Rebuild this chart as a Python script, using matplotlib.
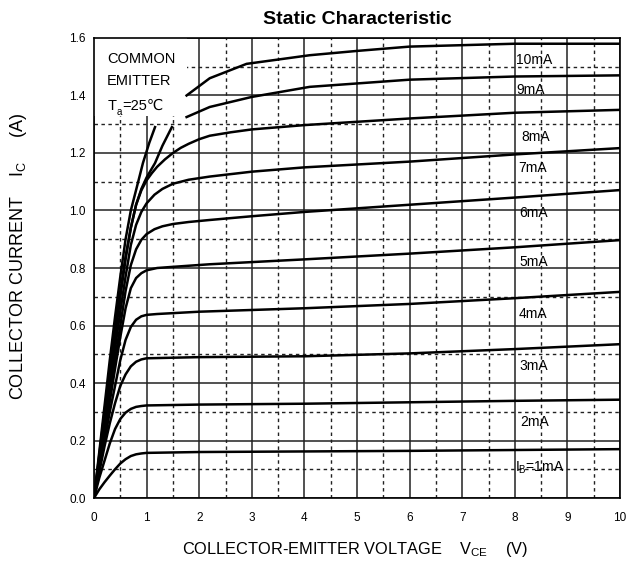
import numpy as np
import matplotlib
matplotlib.use("Agg")
import matplotlib.pyplot as plt
from matplotlib.patches import Rectangle
from matplotlib.ticker import MultipleLocator

plt.rcParams['font.family'] = ['Liberation Sans', 'DejaVu Sans']
plt.rcParams['mathtext.fontset'] = 'custom'
plt.rcParams['mathtext.rm'] = 'Liberation Sans'
plt.rcParams['mathtext.it'] = 'Liberation Sans'

nan = np.nan

# base current curves, (V_CE, I_C)
v_1 = [0, 0.1, 0.2, 0.3, 0.4, 0.5, 0.6, 0.7, 0.8, 0.9, 1.0, 2, 4, 6, 8, 10]
i_1 = [0, 0.03, 0.055, 0.078, 0.1, 0.12, 0.135, 0.146, 0.152, 0.155, 0.157,
       0.16, 0.162, 0.164, 0.167, 0.17]

v_2 = [0, 0.1, 0.2, 0.3, 0.4, 0.5, 0.6, 0.7, 0.8, 0.9, 1.0, 2, 4, 6, 8, 10]
i_2 = [0, 0.07, 0.13, 0.19, 0.24, 0.275, 0.297, 0.31, 0.317, 0.32, 0.322,
       0.325, 0.328, 0.333, 0.338, 0.342]

v_3 = [0, 0.1, 0.2, 0.3, 0.4, 0.5, 0.6, 0.7, 0.8, 0.9, 1.0, 1.5, 2, 4, 6, 8, 10]
i_3 = [0, 0.09, 0.18, 0.26, 0.33, 0.39, 0.43, 0.458, 0.474, 0.482, 0.486,
       0.488, 0.49, 0.493, 0.503, 0.518, 0.535]

v_4 = [0, 0.1, 0.2, 0.3, 0.4, 0.5, 0.6, 0.7, 0.8, 0.9, 1.0, 1.2, 1.5, 2, 4, 6, 8, 10]
i_4 = [0, 0.1, 0.2, 0.3, 0.39, 0.48, 0.55, 0.595, 0.62, 0.632, 0.637, 0.64,
       0.643, 0.648, 0.66, 0.675, 0.695, 0.717]

v_5 = [0, 0.1, 0.2, 0.3, 0.4, 0.5, 0.6, 0.7, 0.8, 0.9, 1.0, 1.2, 1.5, 2.2, 4, 6, 8, 10]
i_5 = [0, 0.11, 0.22, 0.335, 0.45, 0.56, 0.66, 0.73, 0.765, 0.782, 0.792, 0.8,
       0.804, 0.813, 0.83, 0.85, 0.872, 0.897]

v_6 = [0, 0.1, 0.2, 0.3, 0.4, 0.5, 0.6, 0.7, 0.8, 0.9, 1.0, 1.15, 1.3, 1.5, 1.8,
       2.2, 3, 4, 6, 8, 10]
i_6 = [0, 0.12, 0.24, 0.36, 0.48, 0.6, 0.72, 0.81, 0.865, 0.898, 0.918, 0.935,
       0.945, 0.953, 0.96, 0.967, 0.98, 0.995, 1.02, 1.045, 1.071]

v_7 = [0, 0.1, 0.2, 0.3, 0.4, 0.5, 0.6, 0.7, 0.8, 0.9, 1.0, 1.15, 1.3, 1.5, 1.8,
       2.2, 3, 4, 6, 8, 10]
i_7 = [0, 0.13, 0.26, 0.39, 0.52, 0.65, 0.77, 0.88, 0.95, 0.995, 1.025, 1.055,
       1.075, 1.093, 1.107, 1.118, 1.135, 1.15, 1.17, 1.195, 1.217]

v_8 = [0, 0.1, 0.2, 0.3, 0.4, 0.5, 0.6, 0.7, 0.8, 0.9, 1.0, 1.1, 1.2, 1.35, 1.5,
       1.65, 1.8, 2.0, 2.2, 2.6, 3, 4, 6, 8, 10]
i_8 = [0, 0.14, 0.28, 0.42, 0.56, 0.7, 0.83, 0.94, 1.02, 1.07, 1.105, 1.13,
       1.152, 1.178, 1.2, 1.218, 1.232, 1.248, 1.26, 1.272, 1.282, 1.297, 1.32,
       1.34, 1.35]

v_9 = [0, 0.1, 0.2, 0.3, 0.4, 0.5, 0.6, 0.7, 0.8, 0.9, 1.0, 1.16, 1.3, 1.48, nan,
       1.76, 2.2, 3, 4.1, 6, 8, 10]
i_9 = [0, 0.15, 0.3, 0.45, 0.59, 0.72, 0.84, 0.94, 1.02, 1.075, 1.115, 1.165,
       1.225, 1.29, nan, 1.325, 1.36, 1.395, 1.43, 1.455, 1.466, 1.47]

v_10 = [0, 0.1, 0.2, 0.3, 0.4, 0.5, 0.6, 0.7, 0.84, 0.93, 1.05, 1.16, nan,
        1.76, 2.2, 2.9, 4.1, 5, 6, 7, 8, 10]
i_10 = [0, 0.16, 0.32, 0.48, 0.63, 0.77, 0.9, 1.0, 1.1, 1.165, 1.235, 1.29, nan,
        1.40, 1.46, 1.51, 1.54, 1.555, 1.57, 1.575, 1.58, 1.58]

curves = [(v_1, i_1), (v_2, i_2), (v_3, i_3), (v_4, i_4), (v_5, i_5),
          (v_6, i_6), (v_7, i_7), (v_8, i_8), (v_9, i_9), (v_10, i_10)]

labels = ['$\\mathregular{I_B}$=1mA', '2mA', '3mA', '4mA', '5mA',
          '6mA', '7mA', '8mA', '9mA', '10mA']
label_x = [8.0, 8.1, 8.08, 8.08, 8.08, 8.08, 8.06, 8.12, 8.03, 8.02]
label_y = [0.104, 0.265, 0.459, 0.64, 0.821, 0.991, 1.147, 1.257, 1.419, 1.523]

fig = plt.figure(figsize=(6.28, 5.66), dpi=100)
ax = fig.add_axes([0.1497, 0.1201, 0.8376, 0.8128])

ax.set_xlim(0, 10)
ax.set_ylim(0, 1.6)
ax.xaxis.set_major_locator(MultipleLocator(1))
ax.xaxis.set_minor_locator(MultipleLocator(0.5))
ax.yaxis.set_major_locator(MultipleLocator(0.2))
ax.yaxis.set_minor_locator(MultipleLocator(0.1))
ax.yaxis.set_major_formatter(plt.FormatStrFormatter('%.1f'))

ax.grid(which='major', color='#222222', linewidth=1.1, linestyle='-')
ax.grid(which='minor', color='#222222', linewidth=1.0, linestyle=(0, (2.5, 2.5)))
ax.set_axisbelow(True)
ax.tick_params(which='both', length=0, labelsize=8.5)
ax.tick_params(axis='x', pad=10)
ax.tick_params(axis='y', pad=6)
for s in ax.spines.values():
    s.set_linewidth(1.2)

# white box behind the note in the top-left corner
ax.add_patch(Rectangle((0, 1.33), 1.76, 0.28, facecolor='white', edgecolor='none', zorder=1.5))

for v, i in curves:
    ax.plot(v, i, color='black', linewidth=1.8, zorder=3)

for lab, x, y in zip(labels, label_x, label_y):
    ax.text(x, y, lab, fontsize=10, ha='left', va='center', zorder=4)

ax.text(0.25, 1.551, 'COMMON\nEMITTER', fontsize=10.5,
        ha='left', va='top', linespacing=1.68, zorder=4)
t_line = ax.text(0.25, 1.35, 'T', fontsize=10.5, ha='left', va='baseline', zorder=4)
ax.annotate('a', xy=(1, 0), xycoords=t_line, xytext=(0.2, -3),
            textcoords='offset points', fontsize=7, va='bottom', ha='left', zorder=4)
ax.annotate('=25\u2103', xy=(1, 0), xycoords=t_line, xytext=(4.2, 0),
            textcoords='offset points', fontsize=10.5, va='bottom', ha='left', zorder=4)

ax.set_title('Static Characteristic', fontsize=14, fontweight='bold', pad=10)

fig.text(0.565, 0.03, 'COLLECTOR-EMITTER VOLTAGE    $\\mathregular{V_{CE}}$    (V)',
         ha='center', va='center', fontsize=11.8)
fig.text(0.029, 0.547, 'COLLECTOR CURRENT    $\\mathregular{I_C}$     (A)',
         ha='center', va='center', rotation=90, fontsize=13)

fig.savefig('out.png', dpi=100)
